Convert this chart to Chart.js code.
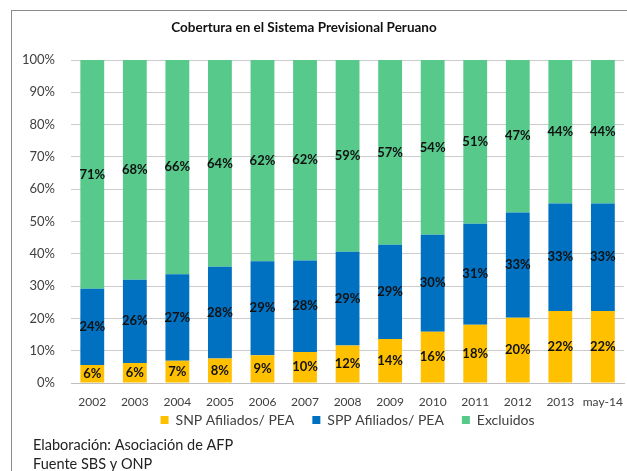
<!DOCTYPE html>
<html><head><meta charset="utf-8">
<script src="https://cdn.jsdelivr.net/npm/chart.js@4/dist/chart.umd.min.js"></script>
<style>
html,body{margin:0;padding:0;background:#fff;overflow:hidden;}
#wrap{position:relative;width:627px;height:471px;}
#frame{position:absolute;left:11px;top:10px;width:700px;height:600px;border-left:1px solid #8c8c8c;border-top:1px solid #8c8c8c;}
#c{position:absolute;left:0;top:0;}
</style>
</head><body>
<div id="wrap"><div id="frame"></div><canvas id="c" width="627" height="471"></canvas></div>
<script>
const categories = ['2002','2003','2004','2005','2006','2007','2008','2009','2010','2011','2012','2013','may-14'];
const snp = [5.6, 6.2, 6.9, 7.6, 8.6, 9.6, 11.6, 13.6, 15.9, 18.0, 20.2, 22.3, 22.3];
const spp = [23.6, 25.8, 26.8, 28.4, 29.1, 28.3, 29.0, 29.2, 30.0, 31.3, 32.6, 33.3, 33.3];
const excluidos = [70.8, 68.0, 66.3, 64.0, 62.3, 62.1, 59.4, 57.2, 54.1, 50.7, 47.2, 44.4, 44.4];
const yTicks = [0,10,20,30,40,50,60,70,80,90,100];
const titleText = 'Cobertura en el Sistema Previsional Peruano';
const sourceLines = ['Elaboración: Asociación de AFP', 'Fuente SBS y ONP'];

const FONT = 'Lato, "Open Sans", sans-serif';
const LEGEND_PAD = 18;

const overlay = {
  id: 'overlay',
  afterLayout(chart) {
    // keep legend row close to the axis while using wide horizontal item spacing
    const lg = chart.legend;
    if (lg) { lg.top -= (LEGEND_PAD - 4); lg.bottom -= (LEGEND_PAD - 4); }
  },
  afterDraw(chart) {
    const ctx = chart.ctx;
    ctx.save();
    ctx.font = 'bold 13px ' + FONT;
    ctx.fillStyle = '#111';
    ctx.textAlign = 'center';
    ctx.textBaseline = 'middle';
    chart.data.datasets.forEach((ds, i) => {
      const meta = chart.getDatasetMeta(i);
      meta.data.forEach((el, j) => {
        const y = (el.y + el.base) / 2;
        ctx.fillText(Math.round(ds.data[j]) + '%', el.x, y);
      });
    });
    ctx.font = 'bold 13.5px ' + FONT;
    ctx.fillStyle = '#111';
    ctx.fillText(titleText, 304, 28);
    ctx.font = '14.5px ' + FONT;
    ctx.fillStyle = '#222';
    ctx.textAlign = 'left';
    ctx.fillText(sourceLines[0], 33, 445);
    ctx.fillText(sourceLines[1], 33, 464);
    ctx.restore();
  }
};

new Chart(document.getElementById('c'), {
  type: 'bar',
  data: {
    labels: categories,
    datasets: [
      { label: 'SNP Afiliados/ PEA', data: snp, backgroundColor: '#FFC000' },
      { label: 'SPP Afiliados/ PEA', data: spp, backgroundColor: '#0070C0' },
      { label: 'Excluidos', data: excluidos, backgroundColor: '#56C98B' }
    ]
  },
  options: {
    responsive: false,
    animation: false,
    events: [],
    layout: { padding: { left: 0, right: 0, top: 60, bottom: 34 - (LEGEND_PAD - 4) } },
    datasets: { bar: { barPercentage: 0.56, categoryPercentage: 1.0 } },
    scales: {
      x: {
        stacked: true,
        grid: { display: false },
        border: { display: true, color: '#bfbfbf' },
        ticks: { font: { family: FONT, size: 12 }, color: '#404040', padding: 4, maxRotation: 0, autoSkip: false },
        afterFit(s) { s.height = 26; }
      },
      y: {
        stacked: true,
        min: 0, max: 100,
        z: 1,
        afterBuildTicks(s) { s.ticks = yTicks.map(v => ({ value: v })); },
        grid: { color: 'rgba(0,0,0,0.2)', drawTicks: false },
        border: { display: false },
        ticks: { font: { family: FONT, size: 13 }, color: '#404040', padding: 16, callback: v => v + '%' },
        afterFit(s) { s.width = 71; }
      }
    },
    plugins: {
      legend: {
        position: 'bottom',
        fullSize: false,
        labels: { font: { family: FONT, size: 14 }, color: '#404040', boxWidth: 8, boxHeight: 8, padding: LEGEND_PAD }
      },
      title: { display: false },
      tooltip: { enabled: false }
    }
  },
  plugins: [overlay]
});
</script>
</body></html>
